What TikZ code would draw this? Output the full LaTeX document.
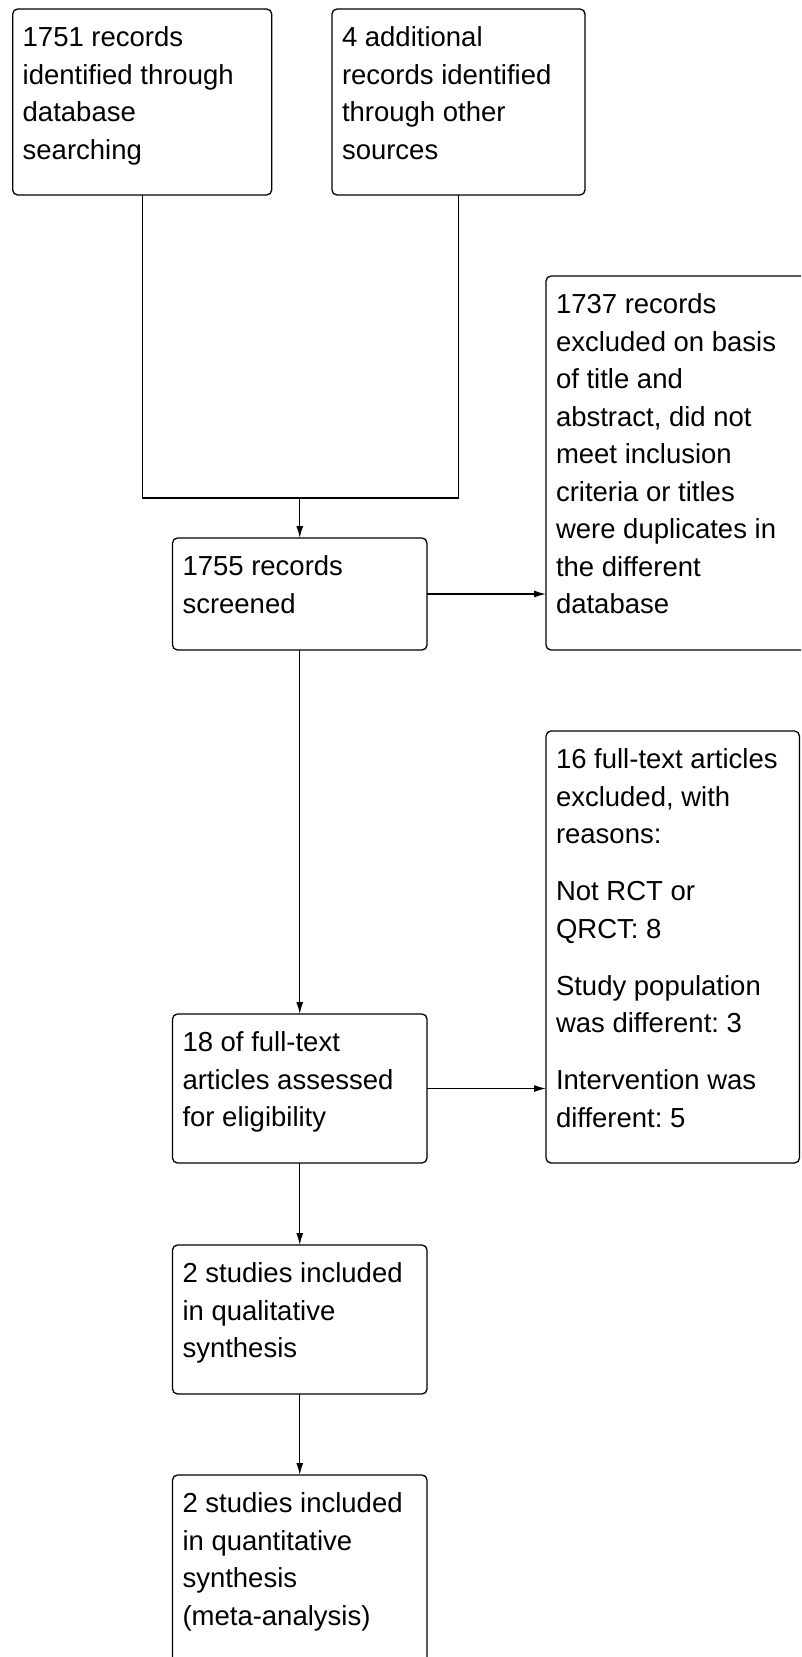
\documentclass[tikz,border=0pt]{standalone}
\usepackage{fontspec}
\setmainfont{Liberation Sans}
\usetikzlibrary{arrows.meta,calc}
\frenchspacing
\begin{document}
\begin{tikzpicture}[x=1pt,y=-1pt,
  box/.style={draw=black, line width=1.3pt, rounded corners=5pt, inner sep=0pt, outer sep=0pt, anchor=north west},
  txt/.style={anchor=base west, inner sep=0pt, outer sep=0pt, text=black, font=\fontsize{27.5pt}{37.5pt}\selectfont},
  conn/.style={draw=black, line width=1.3pt},
  arr/.style={conn, -{Latex[length=12pt,width=7pt]}}]
\useasboundingbox (0,0) rectangle (801,1657);
\clip (0,0) rectangle (801,1657);
% boxes
\node[box, minimum width=259pt, minimum height=186pt] (b1) at (12.7,9) {};
\node[box, minimum width=253pt, minimum height=186pt] (b2) at (332,9) {};
\node[box, minimum width=254.5pt, minimum height=112pt] (b3) at (172.5,538) {};
\node[box, minimum width=266pt, minimum height=374pt] (b4) at (546,276) {};
\node[box, minimum width=253.5pt, minimum height=432pt] (b5) at (546,731) {};
\node[box, minimum width=254.5pt, minimum height=149pt] (b6) at (172.5,1014) {};
\node[box, minimum width=254.5pt, minimum height=149pt] (b7) at (172.5,1245) {};
\node[box, minimum width=254.5pt, minimum height=200pt] (b8) at (172.5,1475) {};
% texts
\node[txt] (t1) at ($(b1.north west)+(10,37.5)$) {\parbox[t]{250pt}{1751 records\\identified through\\database\\searching}};
\node[txt] (t2) at ($(b2.north west)+(10,37.5)$) {\parbox[t]{250pt}{4 additional\\records identified\\through other\\sources}};
\node[txt] (t3) at ($(b3.north west)+(10,37.5)$) {\parbox[t]{250pt}{1755 records\\screened}};
\node[txt] (t4) at ($(b4.north west)+(10,37.5)$) {\parbox[t]{250pt}{1737 records\\excluded on basis\\of title and\\abstract, did not\\meet inclusion\\criteria or titles\\were duplicates in\\the different\\database}};
\node[txt] (t5) at ($(b5.north west)+(10,37.5)$) {\parbox[t]{250pt}{16 full-text articles\\excluded, with\\reasons:\\[19.5pt]Not RCT or\\QRCT: 8\\[19.5pt]Study population\\was different: 3\\[19.5pt]Intervention was\\different: 5}};
\node[txt] (t6) at ($(b6.north west)+(10,37.5)$) {\parbox[t]{250pt}{18 of full-text\\articles assessed\\for eligibility}};
\node[txt] (t7) at ($(b7.north west)+(10,37.5)$) {\parbox[t]{250pt}{2 studies included\\in qualitative\\synthesis}};
\node[txt] (t8) at ($(b8.north west)+(10,37.5)$) {\parbox[t]{250pt}{2 studies included\\in quantitative\\synthesis\\(meta-analysis)}};
% connectors
\coordinate (ylev) at (0,498);
\draw[conn] (b1.south) -- (b1.south |- ylev) -- (b2.south |- ylev) -- (b2.south);
\draw[arr] (b3.north |- ylev) -- (b3.north);
\draw[arr] (b3.east) -- (b3.east -| b4.west);
\draw[arr] (b3.south) -- (b6.north);
\draw[arr] (b6.east) -- (b6.east -| b5.west);
\draw[arr] (b6.south) -- (b7.north);
\draw[arr] (b7.south) -- (b8.north);
\end{tikzpicture}
\end{document}
